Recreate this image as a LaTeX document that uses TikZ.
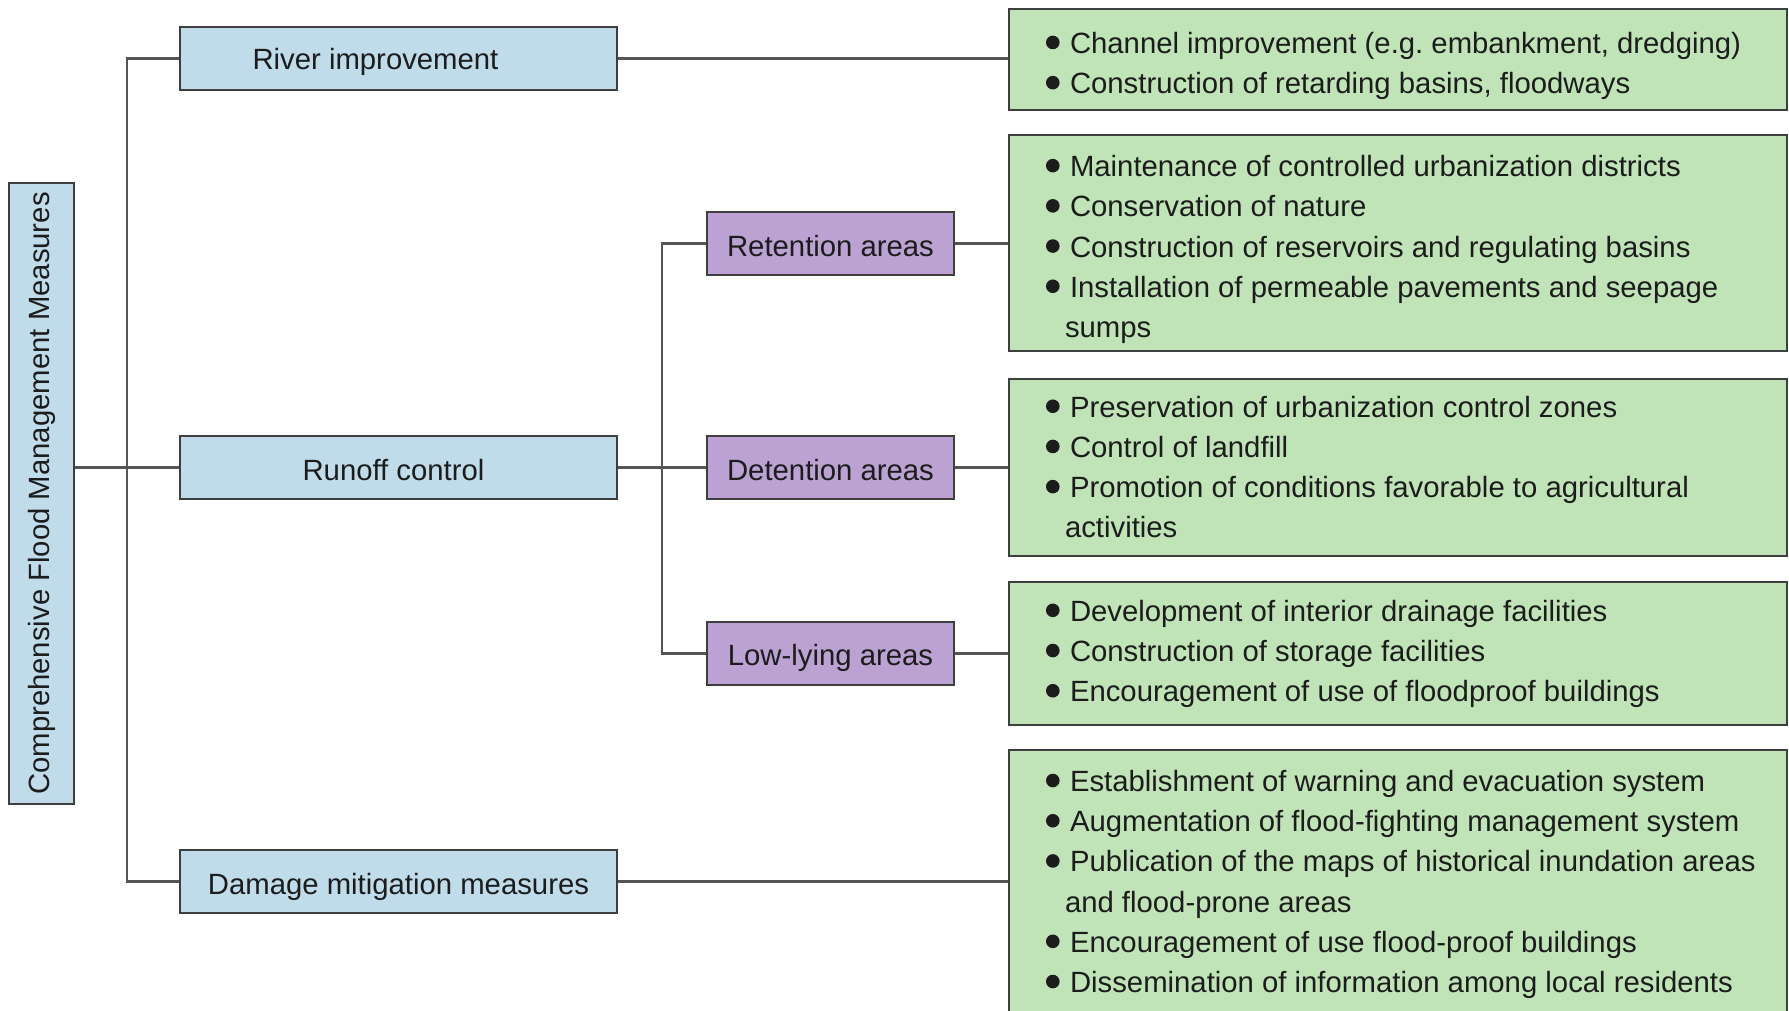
\documentclass[tikz,border=0pt]{standalone}
\usepackage{fontspec}
\setmainfont{Liberation Sans}
\usepackage{graphicx}
\frenchspacing
\definecolor{edgeC}{RGB}{62,62,62}
\definecolor{lineC}{RGB}{85,85,85}
\definecolor{txtC}{RGB}{28,28,28}
\definecolor{blueF}{RGB}{192,220,235}
\definecolor{purpleF}{RGB}{187,162,211}
\definecolor{greenF}{RGB}{192,228,184}
\newcommand\bul{\makebox[24pt][l]{\tikz[baseline=0pt]\fill[txtC] (7pt,11pt) circle[radius=6.8pt];}}
\newcommand\li[1]{\bul#1}
\newcommand\cont[1]{\hspace*{19pt}#1}
\newcommand\shiftdown[2]{\raisebox{#1}[\height][\depth]{#2}}
\newcommand\gtext[2]{\makebox[704pt][l]{\shiftdown{#1}{\begin{tabular}{@{}l@{}}#2\end{tabular}}}}
\begin{document}
\begin{tikzpicture}[x=1pt,y=-1pt,
  base/.style={draw=edgeC, line width=2.4pt, rectangle, inner sep=0pt, text=txtC, font=\fontsize{29.3}{40.2}\selectfont},
  bluebox/.style={base, fill=blueF, minimum height=63pt},
  purplebox/.style={base, fill=purpleF, minimum width=247pt, minimum height=63pt},
  greenbox/.style={base, fill=greenF, inner xsep=37pt, inner ysep=0pt, minimum width=778pt},
  conn/.style={draw=lineC, line width=2.4pt}]
\fill[white] (0,0) rectangle (1789,1010);
\useasboundingbox (0,0) rectangle (1789,1010);

\node[bluebox, minimum width=65pt, minimum height=621pt] (main) at (41.5,493.5) {\rotatebox{90}{Comprehensive Flood Management Measures}};
\node[bluebox, minimum width=437pt] (river) at (398.5,58.5) {\shiftdown{-3.5pt}{River improvement}\hspace*{46pt}};
\node[bluebox, minimum width=437pt] (runoff) at (398.5,467.5) {\shiftdown{-2.5pt}{Runoff control}\hspace*{10pt}};
\node[bluebox, minimum width=437pt] (damage) at (398.5,881.5) {\shiftdown{-5.5pt}{Damage mitigation measures}};

\node[purplebox] (retention) at (830.5,243.5) {\shiftdown{-2.5pt}{Retention areas}};
\node[purplebox] (detention) at (830.5,467.5) {\shiftdown{-2.5pt}{Detention areas}};
\node[purplebox] (lowlying) at (830.5,653.5) {\shiftdown{-4.5pt}{Low-lying areas}};

\node[greenbox, minimum height=101pt] (g1) at (1398,59.5) {\gtext{-6pt}{\li{Channel improvement (e.g. embankment, dredging)}\\ \li{Construction of retarding basins, floodways}}};
\node[greenbox, minimum height=216pt] (g2) at (1398,243) {\gtext{-6pt}{\li{Maintenance of controlled urbanization districts}\\ \li{Conservation of nature}\\ \li{Construction of reservoirs and regulating basins}\\ \li{Installation of permeable pavements and seepage}\\ \cont{sumps}}};
\node[greenbox, minimum height=177pt] (g3) at (1398,467.5) {\gtext{-2pt}{\li{Preservation of urbanization control zones}\\ \li{Control of landfill}\\ \li{Promotion of conditions favorable to agricultural}\\ \cont{activities}}};
\node[greenbox, minimum height=143pt] (g4) at (1398,653.5) {\gtext{0pt}{\li{Development of interior drainage facilities}\\ \li{Construction of storage facilities}\\ \li{Encouragement of use of floodproof buildings}}};
\node[greenbox, minimum height=264pt] (g5) at (1398,882) {\gtext{-2pt}{\li{Establishment of warning and evacuation system}\\ \li{Augmentation of flood-fighting management system}\\ \li{Publication of the maps of historical inundation areas}\\ \cont{and flood-prone areas}\\ \li{Encouragement of use flood-proof buildings}\\ \li{Dissemination of information among local residents}}};

\coordinate (tr) at (127,0);
\coordinate (st) at (662,0);

\draw[conn] (river.west) -- (tr |- river.west) -- (tr |- damage.west) -- (damage.west);
\draw[conn] (main.east |- runoff.west) -- (runoff.west);
\draw[conn] (retention.west) -- (st |- retention.west) -- (st |- lowlying.west) -- (lowlying.west);
\draw[conn] (runoff.east) -- (detention.west);
\draw[conn] (river.east) -- (g1.west |- river.east);
\draw[conn] (retention.east) -- (g2.west |- retention.east);
\draw[conn] (detention.east) -- (g3.west |- detention.east);
\draw[conn] (lowlying.east) -- (g4.west |- lowlying.east);
\draw[conn] (damage.east) -- (g5.west |- damage.east);
\end{tikzpicture}
\end{document}
